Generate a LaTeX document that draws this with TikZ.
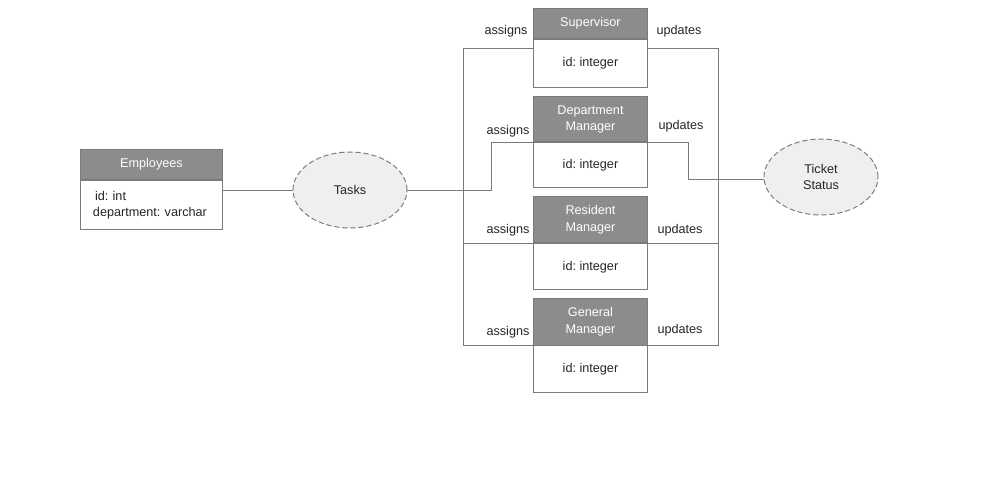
\documentclass[tikz,border=0pt]{standalone}
\usepackage{fontspec}
\setmainfont{Liberation Sans}
\usetikzlibrary{shapes.geometric,positioning}
\tikzset{every picture/.style={line width=0.55pt}}
\definecolor{hdrgray}{HTML}{8C8C8C}
\definecolor{linegray}{HTML}{7A7A7A}
\definecolor{ovalfill}{HTML}{EFEFEF}
\tikzset{
  txt/.style={font=\fontsize{7.2}{9.2}\selectfont\frenchspacing, text=black!85},
  hdrbox/.style={txt, draw=linegray, fill=hdrgray, text=white, minimum width=2.28cm, align=center, inner sep=0pt, anchor=north west},
  bodybox/.style={txt, draw=linegray, fill=white, minimum width=2.28cm, minimum height=0.92cm, align=center, inner sep=0pt},
  relbox/.style={txt, ellipse, draw=linegray, dash pattern=on 3pt off 1.6pt, fill=ovalfill, minimum width=2.28cm, minimum height=1.52cm, align=center, inner sep=0pt},
  lbl/.style={txt, inner sep=0pt},
  wire/.style={draw=linegray}
}

\begin{document}
\begin{tikzpicture}[x=0.02cm,y=-0.02cm]
    \useasboundingbox (0,0) rectangle (1007,481);

    % Employees
    \node[hdrbox, minimum width=2.84cm, minimum height=0.6cm] (emph) at (80,149) {Employees};
    \node[bodybox, minimum width=2.84cm, minimum height=0.98cm, align=left, text width=2.34cm, inner xsep=0.25cm, below=0pt of emph] (empb) {\,id: int\\department: varchar};

    % relationships
    \node[relbox] (tasks) at (350,190) {Tasks};
    \node[relbox] (ticket) at (821,177) {Ticket\\Status};

    % roles
    \node[hdrbox, minimum height=0.6cm] (suph) at (533,8) {Supervisor};
    \node[bodybox, minimum height=0.96cm, below=0pt of suph] (supb) {id: integer};

    \node[hdrbox, minimum height=0.91cm] (dmh) at (533,96) {Department\\Manager};
    \node[bodybox, minimum height=0.9cm, below=0pt of dmh] (dmb) {id: integer};

    \node[hdrbox, minimum height=0.93cm] (rmh) at (533,196) {Resident\\Manager};
    \node[bodybox, below=0pt of rmh] (rmb) {id: integer};

    \node[hdrbox, minimum height=0.93cm] (gmh) at (533,298) {General\\Manager};
    \node[bodybox, minimum height=0.94cm, below=0pt of gmh] (gmb) {id: integer};

    % connectors
    \draw[wire] (empb.east |- tasks.west) -- (tasks.west);
    \draw[wire] (tasks.east) -| ([xshift=-0.84cm]dmh.south west) -- (dmh.south west);

    \draw[wire] ([yshift=-0.2cm]suph.south west) -- ++(-70,0) |- (gmh.south west);
    \draw[wire] (rmh.south west) -- ++(-70,0);
    \draw[wire] ([yshift=-0.2cm]suph.south east) -- ++(71,0) |- (gmh.south east);
    \draw[wire] (rmh.south east) -- ++(71,0);
    \draw[wire] (dmh.south east) -- ++(41,0) |- ([yshift=-0.04cm]ticket.west);

    % labels
    \node[lbl] (as1) at (506,31) {assigns};
    \node[lbl] (as2) at (508,131) {assigns};
    \node[lbl] (as3) at (508,230) {assigns};
    \node[lbl] (as4) at (508,332) {assigns};
    \node[lbl] (up1) at (679,31) {updates};
    \node[lbl] (up2) at (681,126) {updates};
    \node[lbl] (up3) at (680,230) {updates};
    \node[lbl] (up4) at (680,330) {updates};
\end{tikzpicture}
\end{document}
